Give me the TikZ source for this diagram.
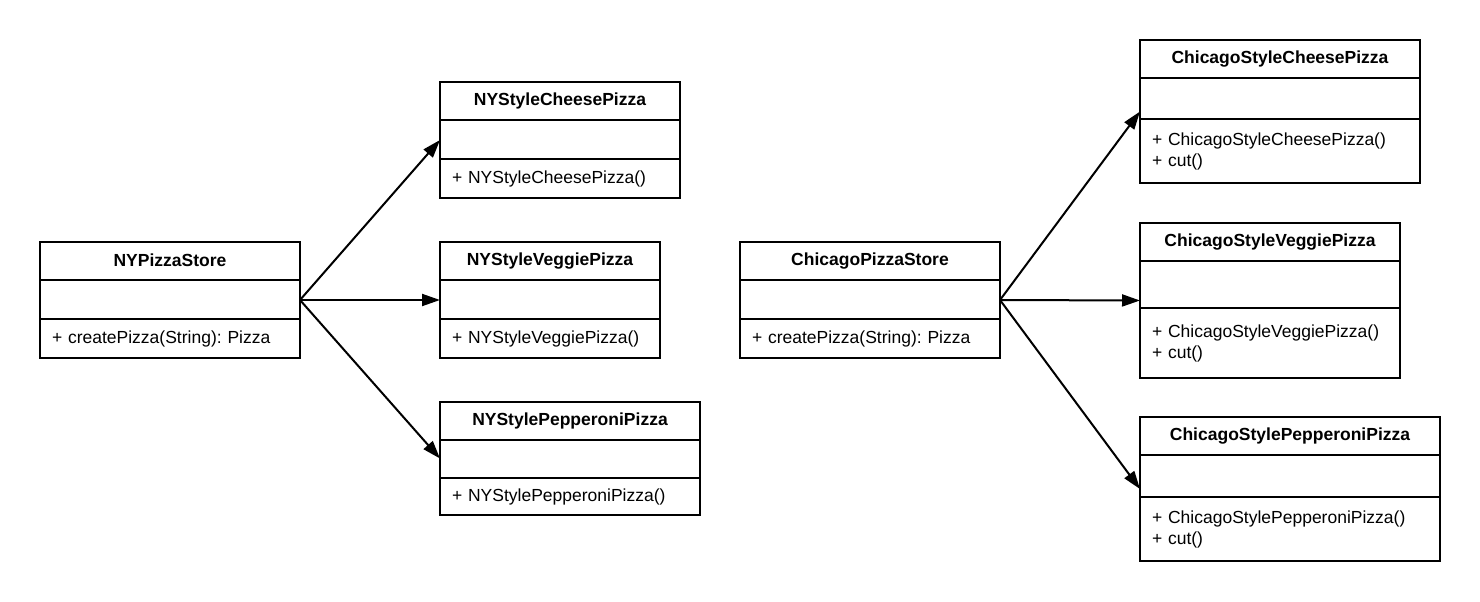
\documentclass[tikz,border=0pt]{standalone}
\usepackage{fontspec}
\setmainfont{Liberation Sans}
\usetikzlibrary{arrows.meta, positioning, fit}
\frenchspacing

% UML class: name, left, top, width, attr height, ops height, title, operations
\newcommand{\umlclass}[8]{%
    \pgfmathsetmacro{\opsw}{#4-24}
    \node[classTitle, minimum width=#4pt, anchor=north west] (#1-t) at (#2,-#3) {\raisebox{2pt}{#7}};
    \node[classBox, minimum width=#4pt, minimum height=#5pt, below=0pt of #1-t] (#1-a) {};
    \node[classBox, classOps, text width=\opsw pt, minimum height=#6pt, below=0pt of #1-a] (#1-o) {#8};
    \node[fit=(#1-t) (#1-o), inner sep=0pt, outer sep=0pt] (#1) {};
}

\begin{document}
\begin{tikzpicture}[
    x=1pt, y=1pt,
    font=\fontsize{17.5}{21}\selectfont,
    classBox/.style={draw, line width=2pt, rectangle, inner sep=0pt, outer sep=0pt},
    classTitle/.style={classBox, minimum height=38pt, font=\fontsize{17.5}{21}\selectfont\bfseries},
    classOps/.style={align=left, inner xsep=12pt},
    createArrow/.style={-{Triangle[length=18pt, width=12pt]}, line width=2pt}
]
    \useasboundingbox (0,0) rectangle (1480,-602);

    % NY side
    \umlclass{nyStore}{40}{242}{260}{39}{39}{NYPizzaStore}{+ createPizza(String): Pizza}
    \umlclass{nyCheese}{440}{82}{240}{39}{39}{NYStyleCheesePizza}{+ NYStyleCheesePizza()}
    \umlclass{nyVeggie}{440}{242}{220}{39}{39}{NYStyleVeggiePizza}{+ NYStyleVeggiePizza()}
    \umlclass{nyPepperoni}{440}{402}{260}{38}{37}{NYStylePepperoniPizza}{+ NYStylePepperoniPizza()}

    % Chicago side
    \umlclass{chStore}{740}{242}{260}{39}{39}{ChicagoPizzaStore}{+ createPizza(String): Pizza}
    \umlclass{chCheese}{1140}{40}{280}{41}{64}{ChicagoStyleCheesePizza}{+ ChicagoStyleCheesePizza()\\+ cut()}
    \umlclass{chVeggie}{1140}{223}{260}{47}{70}{ChicagoStyleVeggiePizza}{+ ChicagoStyleVeggiePizza()\\+ cut()}
    \umlclass{chPepperoni}{1140}{417}{300}{42}{64}{ChicagoStylePepperoniPizza}{+ ChicagoStylePepperoniPizza()\\+ cut()}

    % Arrows
    \draw[createArrow] (nyStore.east) -- (nyCheese.west);
    \draw[createArrow] (nyStore.east) -- (nyVeggie.west);
    \draw[createArrow] (nyStore.east) -- (nyPepperoni.west);
    \draw[createArrow] (chStore.east) -- (chCheese.west);
    \draw[createArrow] (chStore.east) -- (chVeggie.west);
    \draw[createArrow] (chStore.east) -- (chPepperoni.west);

\end{tikzpicture}
\end{document}
